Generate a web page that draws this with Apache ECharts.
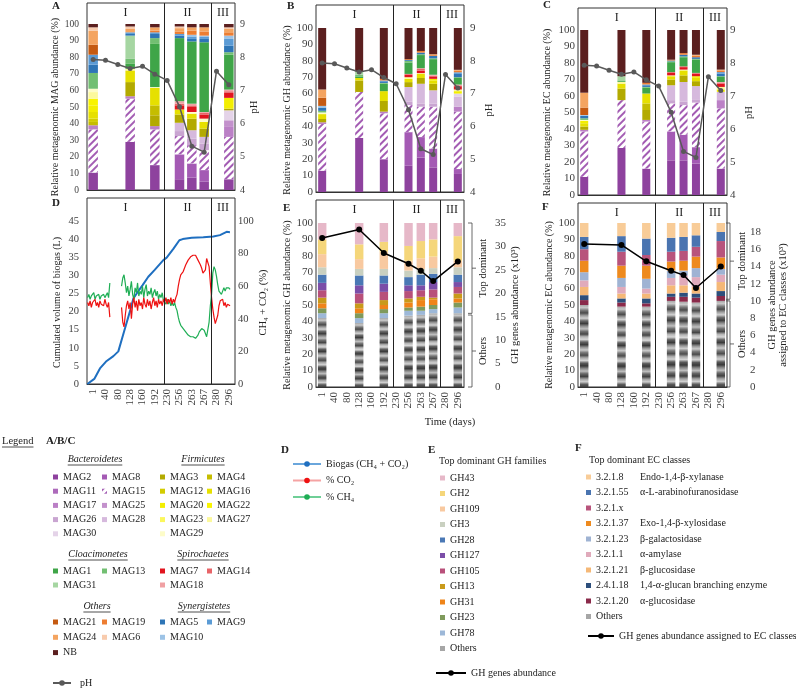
<!DOCTYPE html>
<html><head><meta charset="utf-8">
<script src="https://cdn.jsdelivr.net/npm/echarts@6/dist/echarts.min.js"></script>
<style>html,body{margin:0;padding:0;background:#fff}#c{width:796px;height:689px}</style>
</head><body><div id="c"></div>
<script>
// ---------------- DATA ----------------
const days = ['1','40','80','128','160','192','230','256','263','267','280','296'];
const barIdx = [0,3,5,7,8,9,11];            // days carrying a bar: 1,128,192,256,263,267,296
const pH = [7.93,7.91,7.78,7.66,7.73,7.49,7.30,6.51,5.32,5.14,7.58,7.17];
const phaseBounds = [5.75, 9.55];           // phase limits, in category-index units
const phaseNames = ['I','II','III'];

const magNames = ['MAG2','MAG8','MAG11','MAG15','MAG17','MAG25','MAG26','MAG28','MAG30',
  'MAG3','MAG4','MAG12','MAG16','MAG20','MAG22','MAG23','MAG27','MAG29',
  'MAG7','MAG14','MAG18','MAG1','MAG13','MAG31','MAG5','MAG9','MAG10',
  'MAG21','MAG19','MAG24','MAG6','NB'];

// Panel A (MAG abundance, %), one array per sampled day, in magNames order
const magA_1   = [10.5,0,0,26,2.5,0,0,0,0, 0,2,2,4,4,4,0,4,2, 0,0,0, 0,9.5,0, 5,6,0, 6,0,8.5,2, 2];
const magA_128 = [29,0,0,26,1.5,0,0,0,0, 8.5,0,0,7,0,0,0,1,0, 0,0,0, 3,3,14, 1,1,0, 0,0,2,1.5, 1.5];
const magA_192 = [15,0,0,21.5,2,0,0,0,0, 6.5,6,0,10.5,0,0,0,0,0.5, 0,0,0, 26,3.5,0, 2.5,1,0, 0,1,2,0, 2];
const magA_256 = [6.5,15,0,11,0,0,3,5,0, 5,0,0,3,0,0,0,0,0, 2.5,1,1.5, 38,0,0, 1.5,1,0, 0,1.5,2,1, 1.5];
const magA_263 = [7.5,8.5,0,11,0,0,4,5,0, 7,0,0,3,0,0,0,0,1, 3,1,1, 37.5,0,0, 1.5,1.5,1, 0,2.5,2,0, 2];
const magA_267 = [5,7,0,12,0,0,4,4,0, 5,0,0,4,0,0,0,0,2, 2.5,1,0.5, 42,0,0, 2,1.5,0.5, 0,2.5,2.5,0, 2];
const magA_296 = [6.5,0,0,25.5,6,4,0,0,6, 1,0,0,0,6.5,0,0,0,0, 3,1,1, 21,1.5,0, 4,4,2, 0,2,2,1, 2];
// Panel B (GH abundance by MAG, %)
const magB_1   = [13,0,0,28.5,1,0,0,0,0, 2,0,0,3,0,0,0,0,1, 0,0,0, 0,1,0, 2,0,1, 5,0,5,0, 37.5];
const magB_128 = [33,0,0,28,0,0,0,0,0, 7,0,0,1.5,0,0,0,0,0, 0,0,0, 1,1,2, 0,0,0, 0,0,0,0, 26.5];
const magB_192 = [20,0,0,28,1,0,0,0,0, 6.5,0,0,6,0,0,0,0,0, 0,0,0, 4.5,0.5,0, 1,0.5,0, 0,1,0,0, 31];
const magB_256 = [16,20.5,0,16.5,0,0,2,9,0, 3,0,0,2,0,0,0,1,0, 1.5,0.5,0, 7,1,0, 0.5,0,0, 0,0.5,0,0, 19];
const magB_263 = [21,12.5,0,18.5,0,0,2,12,0, 3.5,0,0,2.5,0,0,0,0.5,0, 1.5,1,0.5, 8,0.5,0, 1,0,0, 0,1,0,0, 14];
const magB_267 = [15,11.5,0,25.5,0,0,2,8,0, 4,0,0,2,1,0,0,0,0, 1.5,0.5,0.5, 9.5,0.5,0, 1.5,0,0, 0,0.5,0.5,0, 16];
const magB_296 = [11,3,0,35,3,0,0,6,2, 0,0,0,0,1.5,0,0,1,0, 2,0.5,0.5, 4,0.5,0, 2,1,0, 0,1,0.5,0, 25.5];
// Panel C (EC abundance by MAG, %)
const magC_1   = [11,0,0,27.5,1,0,0,0,0, 2,0,0,2,1.5,0,0,0,0.5, 0,0,0, 0,1,0, 1.5,0,0.5, 4.5,0,9,0, 38];
const magC_128 = [28.5,0,0,29,0,0,0,0,0, 7,0,0,3,0,0,0,1,0, 0,0,0, 0.5,0.5,2.5, 0,0,0, 0,0,0,0, 28];
const magC_192 = [16,0,0,28.5,1,0,0,0,0, 6,4,0,6,0,0,0,0,0, 0,0,0, 3.5,0.5,0, 1,0.5,0, 0,1,0,0, 32];
const magC_256 = [21,17.5,0,17,0,0,2,9,0, 3.5,0,0,2,0,0,0,0.5,0, 1.5,0.5,0, 6,0.5,0, 0.5,0,0, 0,0.5,0,0, 18];
const magC_263 = [21,15.5,0,18,0,0,2,12,0, 4,0,0,3,0,0,0,0.5,0, 1.5,0.5,0, 5.5,0.5,0, 1,0,0, 0,1,0,0, 14];
const magC_267 = [19,10,0,27,0,0,2,8,0, 3,0,0,2,1,0,0,0,0, 1.5,0.5,0, 8,0.5,0, 1,0,0, 0,1,0.5,0, 15];
const magC_296 = [16,0,0,36.5,5,0,0,5,0, 0,0,0,0,1.5,0,0,1.5,0, 2,0.5,0.5, 3,0.5,0, 1.5,1,0, 0,1,0.5,0, 24];

// Panel D: biogas (L) and gas composition (%), x in category-index units
const biogas = [[-0.47,0],[0.09,1.4],[0.55,4.3],[1.04,6.2],[1.64,7.7],[2.04,9],[2.5,14.4],[3.01,20.4],[3.26,23.6],[3.53,25],[4.01,27.3],[4.47,29.6],[4.99,31.5],[5.69,34.2],[5.96,34.9],[6.5,37.3],[6.99,39.7],[7.26,40],[7.99,40.4],[8.93,40.5],[9.74,40.7],[10.28,41.1],[10.82,42],[11.09,41.9]];
const co2 = [[-0.45,50],[-0.35,48],[-0.25,51],[-0.15,47],[-0.05,50],[0.05,49],[0.15,52],[0.25,48],[0.35,50],[0.45,47],[0.55,51],[0.65,49],[0.75,50],[0.85,48],[0.95,52],[1.05,49],[1.15,47],[1.25,50],[1.35,41],[1.4,'-'],
 [2.3,47],[2.4,38],[2.5,35],[2.6,42],[2.7,48],[2.8,51],[2.9,46],[3.0,50],[3.1,40],[3.2,49],[3.3,53],[3.4,47],[3.5,51],[3.6,45],[3.7,52],[3.8,48],[3.9,50],[4.0,46],[4.1,53],[4.2,49],[4.3,47],[4.4,52],[4.5,48],[4.6,51],[4.7,46],[4.8,50],[4.9,53],[5.0,48],[5.1,51],[5.2,47],[5.3,52],[5.4,49],[5.5,51],[5.6,48],[5.7,52],[5.8,50],[5.9,53],[6.0,49],[6.1,52],[6.2,50],[6.3,53],[6.4,49],[6.5,52],[6.6,50],[6.7,53],
 [6.8,55],[6.9,60],[7.0,64],[7.1,67],[7.2,66],[7.3,69],[7.4,71],[7.5,73],[7.6,74],[7.7,76],[7.8,77],[7.9,78],[8.0,78],[8.1,79],[8.2,78],[8.3,79],[8.4,78],[8.5,76],[8.6,75],[8.7,73],[8.8,71],[8.9,68],[9.0,68],[9.1,70],[9.2,77],[9.3,78],[9.4,72],[9.5,62],[9.6,53],[9.7,46],[9.8,41],[9.9,37],[10.0,38],[10.1,42],[10.2,48],[10.3,51],[10.4,50],[10.5,52],[10.6,48],[10.7,50],[10.8,47],[10.9,49],[11.0,48],[11.1,48]];
const ch4 = [[-0.45,53],[-0.35,55],[-0.25,52],[-0.15,54],[-0.05,53],[0.05,56],[0.15,52],[0.25,54],[0.35,53],[0.45,55],[0.55,52],[0.65,54],[0.75,53],[0.85,55],[0.95,53],[1.05,54],[1.15,56],[1.25,53],[1.35,62],[1.4,'-'],
 [2.3,60],[2.4,65],[2.5,67],[2.6,62],[2.7,56],[2.8,60],[2.9,54],[3.0,58],[3.1,63],[3.2,55],[3.3,52],[3.4,59],[3.5,56],[3.6,62],[3.7,54],[3.8,57],[3.9,55],[4.0,60],[4.1,53],[4.2,58],[4.3,61],[4.4,54],[4.5,57],[4.6,55],[4.7,59],[4.8,53],[4.9,56],[5.0,58],[5.1,54],[5.2,57],[5.3,52],[5.4,55],[5.5,53],[5.6,56],[5.7,51],[5.8,52],[5.9,49],[6.0,52],[6.1,49],[6.2,51],[6.3,48],[6.4,50],[6.5,48],[6.6,50],[6.7,47],
 [6.8,45],[6.9,41],[7.0,38],[7.1,36],[7.2,35],[7.3,34],[7.4,33],[7.5,32],[7.6,31],[7.7,30],[7.8,29],[7.9,29],[8.0,28],[8.1,29],[8.2,29],[8.3,28],[8.4,29],[8.5,30],[8.6,32],[8.7,33],[8.8,34],[8.9,34],[9.0,33],[9.1,32],[9.2,29],[9.3,29],[9.4,38],[9.5,48],[9.6,55],[9.7,68],[9.8,72],[9.9,70],[10.0,66],[10.1,61],[10.2,57],[10.3,58],[10.4,55],[10.5,56],[10.6,59],[10.7,57],[10.8,59],[10.9,58],[11.0,59],[11.1,58]];

// Panel E: GH families (%), values at the 7 sampled days; stacked bottom -> top
const ghNames = ['Others','GH78','GH23','GH31','GH13','GH105','GH127','GH28','GH3','GH109','GH2','GH43'];
const ghOthers = [42,39,42,43.5,44,45,45];
const gh78  = [3,3,3,3,2.5,2.5,3.5];
const gh23  = [3,3,2.5,2,2.5,2.5,3];
const gh31  = [3,3,2.5,3,4,3.5,2.5];
const gh13  = [3.5,3,3,2.5,2,1,3];
const gh105 = [4.5,6,5,4.5,4,5,4];
const gh127 = [4.5,5,5,3.5,3,4.5,3];
const gh28  = [5,6,5,5,6.5,5,4.5];
const gh3   = [4.5,4,4,4,3.5,3.5,4.5];
const gh109 = [8,6,10.5,6,6.5,7,4];
const gh2   = [9,9,6,9,10.5,10.5,15];
const gh43  = [10,13,11.5,14,11,10,8];
const ghAbund = [31.8,null,null,33.6,null,28.6,null,26.3,24.8,22.6,null,26.8]; // x10^3

// Panel F: EC classes (%), stacked bottom -> top
const ecNames = ['Others','3.2.1.20','2.4.1.18','3.2.1.21','3.2.1.1','3.2.1.23','3.2.1.37','3.2.1.x','3.2.1.55','3.2.1.8'];
const ecOthers  = [50,49,49,52.5,52,51.5,52.5];
const ec3_2_1_20 = [3,2.5,2,2.5,3,3,3];
const ec2_4_1_18 = [3,2.5,3,2,2.5,2.5,3];
const ec3_2_1_21 = [5,3,3,5,4.5,4,5.5];
const ec3_2_1_1  = [4,4,3,4.5,6,6,4.5];
const ec3_2_1_23 = [5,5.5,6,4.5,3,5.5,3.5];
const ec3_2_1_37 = [7,7.5,8,5.5,6,7,7];
const ec3_2_1_x  = [7,8.5,6.5,6,6,6,10];
const ec3_2_1_55 = [7.5,9.5,10,8.5,8.5,7,5.5];
const ec3_2_1_8  = [8.5,8,9.5,9,8.5,7.5,5.5];
const ecAbund = [16.6,null,null,16.5,null,14.6,null,13.5,13.0,11.5,null,14.0]; // x10^3
const ecDesc = {'3.2.1.8':'Endo-1,4-β-xylanase','3.2.1.55':'α-L-arabinofuranosidase','3.2.1.x':'','3.2.1.37':'Exo-1,4-β-xylosidase','3.2.1.23':'β-galactosidase','3.2.1.1':'α-amylase','3.2.1.21':'β-glucosidase','2.4.1.18':'1,4-α-glucan branching enzyme','3.2.1.20':'α-glucosidase'};

// ---------------- STYLE ----------------
const magColors = ['#8e429e','#a45ab4','#ad6abb','#a35cb3','#bb80c6','#c391cc','#c9a5d1','#d6b9dd','#e4d3e8',
  '#b3aa00','#c5bd00','#d3cc00','#e6e000','#f3ee00','#f9f400','#fbf75c','#fcf99c','#fdfcc9',
  '#e1141e','#e86468','#f0a0a3','#3fa548','#72bf72','#a6d6a2','#2e75b6','#5b9bd5','#9dc3e6',
  '#c55a11','#ed7d31','#f4a460','#f8cbad','#5b1f1f'];
const ghColors = ['#999','#9db8d8','#7f9a5c','#ef8419','#c99a1a','#b8507a','#7b4ea8','#4a78b5','#c9d0c0','#f8c9a0','#f5d67a','#e6b8c8'];
const ecColors = ['#999','#8a2a4a','#2d4f7c','#f5b877','#e0aabb','#9fb3d3','#ee8a1e','#b8547c','#4a74b0','#f8cc98'];
const stripeGrays = ['#a8a8a8','#c8c8c8','#7a7a7a','#4a4a4a','#9c9c9c','#d2d2d2','#6a6a6a','#3c3c3c','#8c8c8c','#c0c0c0','#707070','#464646','#b4b4b4','#d8d8d8','#626262','#3a3a3a','#949494','#cccccc','#787878','#4c4c4c','#aaaaaa','#d4d4d4','#5a5a5a','#383838','#888888','#bebebe','#686868','#404040','#a2a2a2','#d0d0d0','#5e5e5e','#3e3e3e'];
const F = 'Liberation Serif';
const TXT = '#222';
const LAB = '#404040';

function stripeGradient(){
  const n=stripeGrays.length;
  return new echarts.graphic.LinearGradient(0,0,0,1,stripeGrays.map((c,i)=>({offset:i/(n-1),color:c})));
}
function expand(vals){ const a=days.map(()=> '-'); barIdx.forEach((ix,i)=>{a[ix]=vals[i];}); return a; }

const geom = [
 {frame:{left:87,top:3,width:148,height:187},   data:{left:87,top:24,width:148,height:166}},
 {frame:{left:316,top:5,width:148,height:187},  data:{left:316,top:28,width:148,height:164}},
 {frame:{left:578,top:8,width:149,height:187},  data:{left:578,top:30,width:149,height:165}},
 {frame:{left:87,top:198,width:148,height:186}, data:{left:87,top:221,width:148,height:163}},
 {frame:{left:316,top:200,width:148,height:187},data:{left:316,top:223,width:148,height:164}},
 {frame:{left:578,top:203,width:149,height:184},data:{left:578,top:223,width:149,height:164}}
];
const leftCfg = [
 {max:100,interval:10,name:'Relative metagenomic MAG abundance (%)',gap:24,margin:8,fs:9.5},
 {max:100,interval:10,name:'Relative metagenomic GH abundance (%)',gap:23,margin:3,fs:11},
 {max:100,interval:10,name:'Relative metagenomic EC abundance (%)',gap:26,margin:3,fs:11},
 {max:45,interval:5,name:'Cumulated volume of biogas (L)',gap:25,margin:8,fs:10.5},
 {max:100,interval:10,name:'Relative metagenomic GH abundance (%)',gap:22,margin:3,fs:11},
 {max:100,interval:10,name:'Relative metagenomic EC abundance (%)',gap:24,margin:3,fs:11}
];
const rightCfg = [
 {min:4,max:9,interval:1,name:'pH',gap:12,margin:5,fs:10,offset:0},
 {min:4,max:9,interval:1,name:'pH',gap:20,margin:6,fs:11,offset:0},
 {min:4,max:9,interval:1,name:'pH',gap:17,margin:3,fs:11,offset:0},
 {min:0,max:100,interval:20,name:'CH₄ + CO₂ (%)',gap:16,margin:3,fs:10.5,offset:0},
 {min:0,max:35,interval:5,name:'GH genes abundance (x10³)',gap:18,margin:3,fs:11,offset:28},
 {min:0,max:19.05,interval:2,name:'GH genes abundance\nassigned to EC classes (x10³)',gap:20,margin:3,fs:11,offset:20,hideMax:true}
];

const grid=[], xAxis=[], yAxis=[], series=[];
geom.forEach((g,p)=>{
  grid.push(Object.assign({show:true,borderColor:'#333',borderWidth:1,backgroundColor:'rgba(0,0,0,0)'},g.frame));
  grid.push(Object.assign({show:false},g.data));
  xAxis.push({type:'value',gridIndex:2*p,min:-0.5,max:11.5,show:false});
  xAxis.push({type:'category',gridIndex:2*p+1,data:days,boundaryGap:true,
    axisLine:{show:true,lineStyle:{color:'#333'}},axisTick:{show:false},
    axisLabel: p>=3 ? {show:true,interval:0,rotate:90,margin:5,fontFamily:F,fontSize:11,color:LAB} : {show:false}});
  yAxis.push({type:'value',gridIndex:2*p,min:0,max:1,show:false});
  const L=leftCfg[p], R=rightCfg[p];
  yAxis.push({type:'value',gridIndex:2*p+1,position:'left',min:0,max:L.max,interval:L.interval,
    axisLine:{show:false},axisTick:{show:false},splitLine:{show:false},
    axisLabel:{margin:L.margin,fontFamily:F,fontSize:L.fs,color:LAB},
    name:L.name,nameLocation:'middle',nameGap:L.gap,nameRotate:90,
    nameTextStyle:{fontFamily:F,fontSize:10,color:TXT}});
  yAxis.push({type:'value',gridIndex:2*p+1,position:'right',offset:R.offset,min:R.min,max:R.max,interval:R.interval,
    axisLine:{show:false},axisTick:{show:false},splitLine:{show:false},
    axisLabel:{margin:R.margin,fontFamily:F,fontSize:R.fs,color:LAB,showMaxLabel:!R.hideMax},
    name:R.name,nameLocation:'middle',nameGap:R.gap,nameRotate:90,
    nameTextStyle:{fontFamily:F,fontSize:10.5,color:TXT,lineHeight:11}});
  // frame: phase dividers & phase names
  series.push({type:'line',xAxisIndex:2*p,yAxisIndex:3*p,data:[],silent:true,
    markLine:{silent:true,symbol:['none','none'],label:{show:false},animation:false,
      lineStyle:{color:'#222',type:'solid',width:1},
      data:phaseBounds.map(b=>({xAxis:b}))},
    markArea:{silent:true,itemStyle:{color:'rgba(0,0,0,0)'},
      label:{show:true,position:'insideTop',distance:4,fontFamily:F,fontSize:12,color:TXT},
      data:[[{name:phaseNames[0],xAxis:-0.5},{xAxis:phaseBounds[0]}],
            [{name:phaseNames[1],xAxis:phaseBounds[0]},{xAxis:phaseBounds[1]}],
            [{name:phaseNames[2],xAxis:phaseBounds[1]},{xAxis:11.5}]]}});
});
xAxis.push({type:'value',gridIndex:7,min:-0.5,max:11.5,show:false}); // index 12, for panel D lines

const hatch = {color:'#fff',decal:{symbol:'rect',symbolSize:1,color:'#a35cb3',dashArrayX:[1,0],dashArrayY:[2,2.5],rotation:-Math.PI/4}};
const magPanels = [
  [magA_1,magA_128,magA_192,magA_256,magA_263,magA_267,magA_296],
  [magB_1,magB_128,magB_192,magB_256,magB_263,magB_267,magB_296],
  [magC_1,magC_128,magC_192,magC_256,magC_263,magC_267,magC_296]];
magPanels.forEach((dayArrs,p)=>{
  magNames.forEach((nm,k)=>{
    series.push({type:'bar',name:nm,stack:'mag'+p,xAxisIndex:2*p+1,yAxisIndex:3*p+1,
      barWidth:p===0?9.5:8,data:expand(dayArrs.map(d=>d[k])),
      itemStyle: nm==='MAG15' ? hatch : {color:magColors[k]}});
  });
  series.push({type:'line',name:'pH',xAxisIndex:2*p+1,yAxisIndex:3*p+2,data:pH,z:5,
    symbol:'circle',symbolSize:5,lineStyle:{color:'#595959',width:1.5},itemStyle:{color:'#595959'}});
});

// Panel D
series.push({type:'line',name:'Biogas (CH₄ + CO₂)',xAxisIndex:12,yAxisIndex:10,data:biogas,symbol:'none',
  lineStyle:{color:'#1f6fc0',width:2},itemStyle:{color:'#1f6fc0'}});
series.push({type:'line',name:'% CH₄',xAxisIndex:12,yAxisIndex:11,data:ch4,symbol:'none',
  lineStyle:{color:'#1fae55',width:1.2},itemStyle:{color:'#1fae55'}});
series.push({type:'line',name:'% CO₂',xAxisIndex:12,yAxisIndex:11,data:co2,symbol:'none',
  lineStyle:{color:'#ee1111',width:1.2},itemStyle:{color:'#ee1111'}});

// Panel E
const ghData = [ghOthers,gh78,gh23,gh31,gh13,gh105,gh127,gh28,gh3,gh109,gh2,gh43];
ghNames.forEach((nm,i)=>{
  series.push({type:'bar',name:nm,stack:'gh',xAxisIndex:9,yAxisIndex:13,barWidth:8.5,data:expand(ghData[i]),
    itemStyle:{color: nm==='Others'? stripeGradient() : ghColors[i]}});
});
series.push({type:'line',name:'GH genes abundance',xAxisIndex:9,yAxisIndex:14,data:ghAbund,connectNulls:true,z:5,
  symbol:'circle',symbolSize:6,lineStyle:{color:'#000',width:1.5},itemStyle:{color:'#000'}});

// Panel F
const ecData = [ecOthers,ec3_2_1_20,ec2_4_1_18,ec3_2_1_21,ec3_2_1_1,ec3_2_1_23,ec3_2_1_37,ec3_2_1_x,ec3_2_1_55,ec3_2_1_8];
ecNames.forEach((nm,i)=>{
  series.push({type:'bar',name:nm,stack:'ec',xAxisIndex:11,yAxisIndex:16,barWidth:8.5,data:expand(ecData[i]),
    itemStyle:{color: nm==='Others'? stripeGradient() : ecColors[i]}});
});
series.push({type:'line',name:'GH genes abundance assigned to EC classes',xAxisIndex:11,yAxisIndex:17,data:ecAbund,connectNulls:true,z:5,
  symbol:'circle',symbolSize:6,lineStyle:{color:'#000',width:1.5},itemStyle:{color:'#000'}});

// ---------------- LEGENDS ----------------
const legText = {fontFamily:F,fontSize:10,color:TXT,lineHeight:14};
function leg(left,top,data,gap,extra){
  return Object.assign({left,top,orient:'vertical',padding:0,itemGap:gap,itemWidth:5,itemHeight:5,icon:'rect',
    selectedMode:false,data,textStyle:legText},extra||{});
}
const legend = [
  leg(53,470,['MAG2','MAG11','MAG17','MAG26','MAG30'],0.2),
  leg(102,470,['MAG8','MAG15','MAG25','MAG28'],0.2),
  leg(160,470,['MAG3','MAG12','MAG20','MAG23','MAG29'],0.2),
  leg(207,470,['MAG4','MAG16','MAG22','MAG27'],0.2),
  leg(53,564,['MAG1','MAG31'],0),
  leg(102,564,['MAG13'],0),
  leg(160,564,['MAG7','MAG18'],0),
  leg(207,564,['MAG14'],0),
  leg(53,615,['MAG21','MAG24','NB'],1.3),
  leg(102,615,['MAG19','MAG6'],1.3),
  leg(160,615,['MAG5','MAG10'],1.3),
  leg(207,615,['MAG9'],1.3),
  {left:52,top:676,padding:0,itemWidth:18,itemHeight:7,selectedMode:false,data:['pH'],textStyle:Object.assign({},legText,{padding:[0,0,0,4]})},
  {left:292,top:457,orient:'vertical',padding:0,itemGap:2.5,itemWidth:28,itemHeight:7,selectedMode:false,textStyle:legText,
    data:[{name:'Biogas (CH₄ + CO₂)',lineStyle:{color:'#6aa6dc'}},{name:'% CO₂',lineStyle:{color:'#f5a3a3'}},{name:'% CH₄',lineStyle:{color:'#6fcf97'}}]},
  leg(440,471,['GH43','GH2','GH109','GH3','GH28','GH127','GH105','GH13','GH31','GH23','GH78',{name:'Others',itemStyle:{color:'#a6a6a6'}}],1.5),
  {left:435,top:666,padding:0,itemWidth:30,itemHeight:7,selectedMode:false,data:['GH genes abundance'],textStyle:legText},
  leg(586,470,['3.2.1.8','3.2.1.55','3.2.1.x','3.2.1.37','3.2.1.23','3.2.1.1','3.2.1.21','2.4.1.18','3.2.1.20',{name:'Others',itemStyle:{color:'#a6a6a6'}}],1.5,
    {formatter:n=> ecDesc[n] ? '{a|'+n+'}{b|'+ecDesc[n]+'}' : '{a|'+n+'}',
     textStyle:Object.assign({},legText,{rich:{a:{width:44,fontFamily:F,fontSize:10,color:TXT},b:{fontFamily:F,fontSize:10,color:TXT}}})}),
  {left:587,top:629,padding:0,itemWidth:26,itemHeight:7,selectedMode:false,data:['GH genes abundance assigned to EC classes'],textStyle:legText}
];

// ---------------- TEXT DECORATIONS ----------------
const mctx = document.createElement('canvas').getContext('2d');
function tw(text,font){ mctx.font=font; return mctx.measureText(text).width; }
const els = [];
function T(text,x,y,font,align,rot){
  els.push({type:'text',x,y,rotation:rot||0,silent:true,
    style:{text,font,fill:TXT,align:align||'left',verticalAlign:'middle',textAlign:align||'left',textVerticalAlign:'middle'}});
}
function U(x1,x2,y){ els.push({type:'line',silent:true,shape:{x1,y1:y,x2,y2:y},style:{stroke:TXT,lineWidth:0.8}}); }
const bold = 'bold 11px "Liberation Serif"';
const reg = '10px "Liberation Serif"';
const ital = 'italic 10px "Liberation Serif"';
T('A',52,6,bold); T('B',287,6,bold); T('C',543,5,bold);
T('D',52,203,bold); T('E',283,208,bold); T('F',542,207,bold);
T('Legend',2,441,'10.5px "Liberation Serif"'); U(2,2+tw('Legend','10.5px "Liberation Serif"'),447);
T('A/B/C',46,441,bold);
[['Bacteroidetes',95,459],['Firmicutes',203,459],['Cloacimonetes',98,554],['Spirochaetes',203,554],['Others',97,606],['Synergistetes',204,606]]
  .forEach(([t,cx,cy])=>{ T(t,cx,cy,ital,'center'); const w=tw(t,ital); U(cx-w/2,cx+w/2,cy+6); });
T('D',281,450,bold); T('E',428,450,bold); T('F',575,448,bold);
T('Top dominant GH families',439,461,reg);
T('Top dominant EC classes',589,460,reg);
T('Time (days)',450,422,'10.5px "Liberation Serif"','center');

const option = {animation:false,textStyle:{fontFamily:F},grid,xAxis,yAxis,series,legend,graphic:{elements:els}};
const chart = echarts.init(document.getElementById('c'));
chart.setOption(option);

// brackets "Top dominant" / "Others" next to panels E and F
function bracket(yAxisIndex,xAxisFrame,dx,topRange,othRange,textX){
  const xr = chart.convertToPixel({xAxisIndex:xAxisFrame},11.5);
  const x = xr+dx;
  const py = v=>chart.convertToPixel({yAxisIndex},v);
  [topRange,othRange].forEach((r,i)=>{
    const y1=py(r[1]), y2=py(r[0]), ym=(y1+y2)/2;
    els.push({type:'polyline',silent:true,shape:{points:[[x-4,y1],[x,y1],[x,y2],[x-4,y2]]},style:{stroke:'#444',fill:null,lineWidth:0.8}});
    els.push({type:'line',silent:true,shape:{x1:x,y1:ym,x2:x+4,y2:ym},style:{stroke:'#444',lineWidth:0.8}});
    T(i===0?'Top dominant':'Others',textX,ym,'10.5px "Liberation Serif"','center',Math.PI/2);
  });
}
bracket(13,8,8,[44.9,100],[0,43.9],483);
bracket(16,10,3,[53.5,100],[0,52.5],742);
chart.setOption({graphic:{elements:els}});
</script></body></html>
